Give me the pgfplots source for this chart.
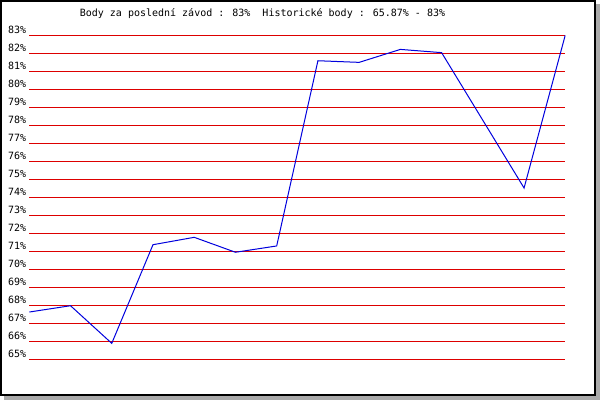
\documentclass[border=0pt]{standalone}
\usepackage{fontspec}
\setmainfont{DejaVu Sans Mono}
\setmonofont{DejaVu Sans Mono}
\usepackage{pgfplots}
\pgfplotsset{compat=1.18}
\definecolor{gridred}{RGB}{221,0,0}
\definecolor{lineblue}{RGB}{0,0,221}
\definecolor{shadowgray}{RGB}{170,170,170}
\begin{document}
\begin{tikzpicture}[x=1pt,y=1pt]
\useasboundingbox (0,0) rectangle (600,400);
\fill[shadowgray] (4,0) rectangle (600,396);
\fill[black] (0,4) rectangle (596,400);
\fill[white] (2,6) rectangle (594,398);
\node[anchor=base, inner sep=0pt, font=\fontsize{10}{12}\selectfont] at (262.5,383) {Body za poslední závod : 83\%~~Historické body : 65.87\% - 83\%};
\begin{axis}[
  at={(29.3pt,41pt)}, anchor=south west,
  scale only axis, width=536pt, height=324pt,
  xmin=0, xmax=13, ymin=65, ymax=83,
  axis line style={draw=none},
  xtick=\empty,
  ytick={65,...,83},
  major tick length=0pt,
  ymajorgrids,
  grid style={gridred, line width=1pt},
  yticklabel={\pgfmathparse{int(\tick)}\pgfmathresult\%},
  yticklabel style={anchor=base east, inner sep=0pt, xshift=-3pt, yshift=2pt, font=\fontsize{10}{12}\selectfont},
]
\addplot[lineblue, line width=1pt, sharp plot, mark=none] coordinates {
(0,67.61) (1,67.96) (2,65.87) (3,71.35) (4,71.76) (5,70.93) (6,71.28)
(7,81.57) (8,81.48) (9,82.2) (10,82.02) (12,74.5) (13,83)
};
\end{axis}
\end{tikzpicture}
\end{document}
